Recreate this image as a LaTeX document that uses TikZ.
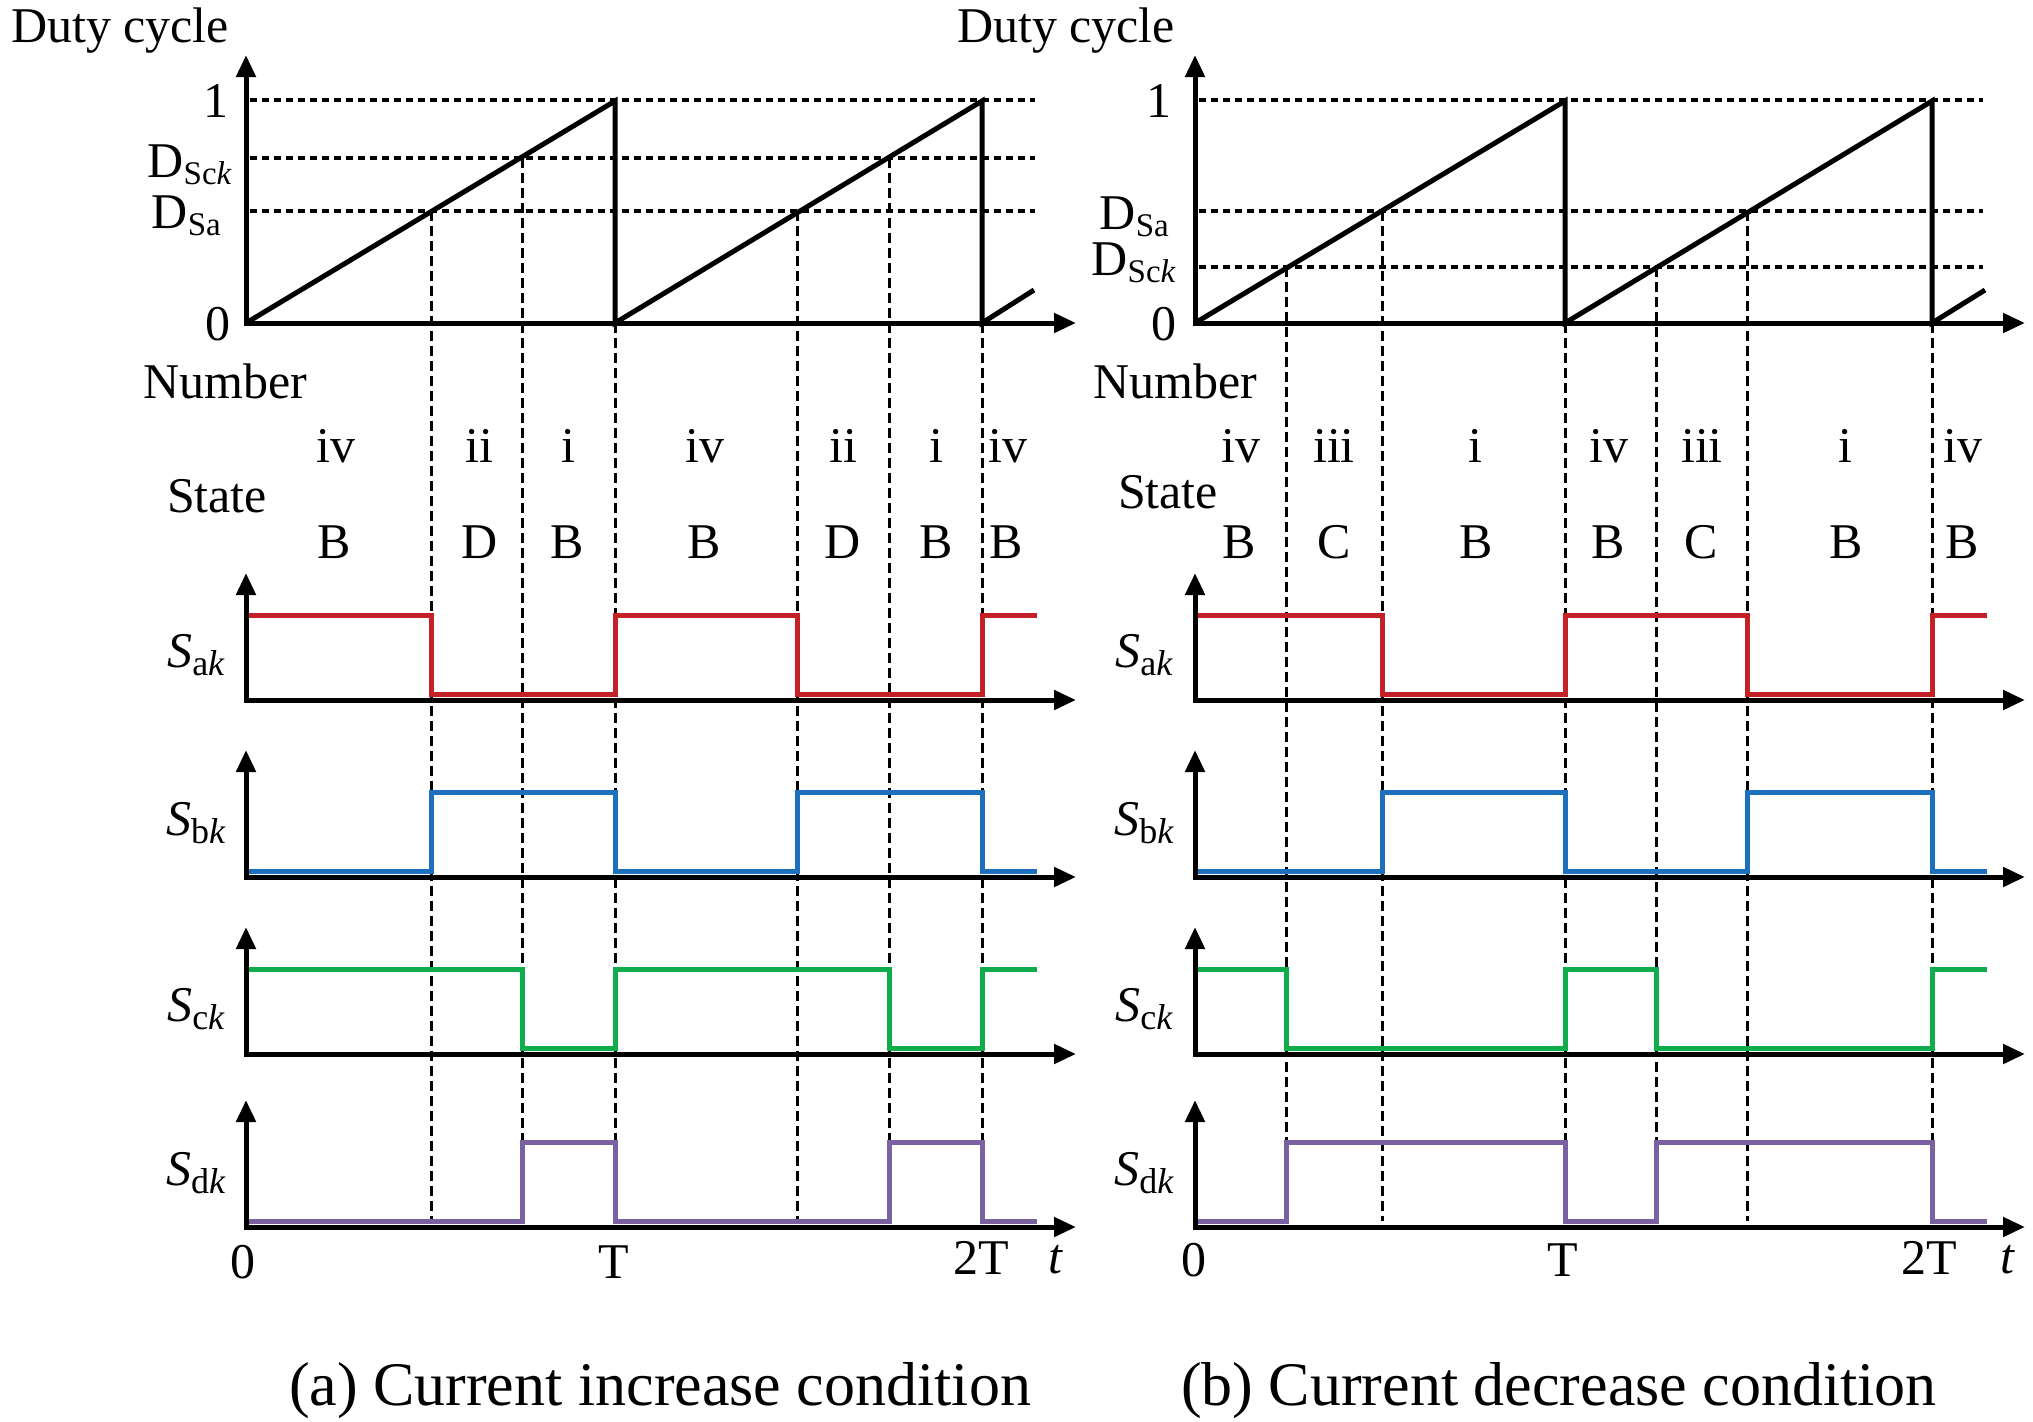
\documentclass[tikz,border=0pt]{standalone}
\usepackage{fontspec}
\setmainfont{Liberation Serif}
\usetikzlibrary{arrows.meta}
\definecolor{sred}{RGB}{196,32,40}
\definecolor{sblue}{RGB}{28,112,190}
\definecolor{sgreen}{RGB}{16,172,76}
\definecolor{spurple}{RGB}{122,98,162}
\tikzset{
  axisln/.style={line width=5pt,{Triangle[length=22pt,width=19pt]}-{Triangle[length=22pt,width=19pt]}},
  ramp/.style={line width=5pt,line join=miter},
  dotln/.style={line width=4pt,dash pattern=on 7pt off 5pt},
  dashln/.style={line width=3pt,dash pattern=on 10pt off 5pt},
  trace/.style={line width=5pt,line join=miter},
  lab/.style={font=\fontsize{50}{60}\selectfont,inner sep=0pt},
  captxt/.style={font=\fontsize{62}{72}\selectfont,inner sep=0pt}
}
\newcommand{\Dsub}[1]{D\raisebox{-7pt}{\fontsize{33}{33}\selectfont #1}}
\newcommand{\Ssub}[1]{\textit{S}\raisebox{-8pt}{\fontsize{36}{36}\selectfont #1\textit{k}}}
\begin{document}
\begin{tikzpicture}[x=1pt,y=-1pt]
\useasboundingbox[fill=white] (0,0) rectangle (2033,1421);

% ================= panel (a) =================
\draw[dotln] (250,100) -- (1035,100);
\draw[dotln] (250,158) -- (1035,158);
\draw[dotln] (250,211) -- (1035,211);
\draw[dashln] (431,211) -- (431,1221);
\draw[dashln] (522,158) -- (522,1221);
\draw[dashln] (615,323) -- (615,1221);
\draw[dashln] (797,211) -- (797,1221);
\draw[dashln] (889,158) -- (889,1221);
\draw[dashln] (982,323) -- (982,1221);
\draw[ramp] (246,323) -- (615,101) -- (615,323) -- (982,101) -- (982,323) -- (1034,290);
\draw[axisln] (246,55) |- (1076,323);
\draw[axisln] (246,573) |- (1076,700);
\draw[axisln] (246,750) |- (1076,877);
\draw[axisln] (246,927) |- (1076,1054);
\draw[axisln] (246,1100) |- (1076,1227);
\draw[trace,sred] (249,615) -- (431,615) -- (431,694) -- (615,694) -- (615,615) -- (797,615) -- (797,694) -- (982,694) -- (982,615) -- (1037,615);
\draw[trace,sblue] (249,871) -- (431,871) -- (431,792) -- (615,792) -- (615,871) -- (797,871) -- (797,792) -- (982,792) -- (982,871) -- (1037,871);
\draw[trace,sgreen] (249,969) -- (522,969) -- (522,1048) -- (615,1048) -- (615,969) -- (889,969) -- (889,1048) -- (982,1048) -- (982,969) -- (1037,969);
\draw[trace,spurple] (249,1221) -- (522,1221) -- (522,1142) -- (615,1142) -- (615,1221) -- (889,1221) -- (889,1142) -- (982,1142) -- (982,1221) -- (1037,1221);
\node[lab,anchor=base] (aduty) at (120,42) {Duty cycle};
\node[lab,anchor=east] (aone) at (229,101) {1};
\node[lab,anchor=east] (azero) at (231,324) {0};
\node[lab,anchor=base east] (adsck) at (232,177) {\Dsub{Sc\textit{k}}};
\node[lab,anchor=base east] (adsa) at (221,228) {\Dsub{Sa}};
\node[lab,anchor=base] (anum) at (225,398) {Number};
\node[lab,anchor=base] (astate) at (217,512) {State};
\node[lab,anchor=base] (an1) at (336,462) {iv};
\node[lab,anchor=base] (an2) at (479,462) {ii};
\node[lab,anchor=base] (an3) at (568,462) {i};
\node[lab,anchor=base] (an4) at (705,462) {iv};
\node[lab,anchor=base] (an5) at (843,462) {ii};
\node[lab,anchor=base] (an6) at (936,462) {i};
\node[lab,anchor=base] (an7) at (1008,462) {iv};
\node[lab,anchor=base] (as1) at (334,558) {B};
\node[lab,anchor=base] (as2) at (480,558) {D};
\node[lab,anchor=base] (as3) at (567,558) {B};
\node[lab,anchor=base] (as4) at (704,558) {B};
\node[lab,anchor=base] (as5) at (843,558) {D};
\node[lab,anchor=base] (as6) at (936,558) {B};
\node[lab,anchor=base] (as7) at (1006,558) {B};
\node[lab,anchor=base] (asa) at (196,667) {\Ssub{a}};
\node[lab,anchor=base] (asb) at (196,835) {\Ssub{b}};
\node[lab,anchor=base] (asc) at (196,1021) {\Ssub{c}};
\node[lab,anchor=base] (asd) at (196,1185) {\Ssub{d}};
\node[lab,anchor=base] (at0) at (243,1278) {0};
\node[lab,anchor=base] (at1) at (614,1278) {T};
\node[lab,anchor=base] (at2) at (981,1274) {2T};
\node[lab,anchor=base] (att) at (1056,1273) {\textit{t}};
\node[captxt,anchor=base] (acap) at (660,1405) {(a) Current increase condition};

% ================= panel (b) =================
\draw[dotln] (1199,100) -- (1983,100);
\draw[dotln] (1199,211) -- (1983,211);
\draw[dotln] (1199,267) -- (1983,267);
\draw[dashln] (1286,267) -- (1286,1221);
\draw[dashln] (1382,211) -- (1382,1221);
\draw[dashln] (1565,323) -- (1565,1221);
\draw[dashln] (1656,267) -- (1656,1221);
\draw[dashln] (1747,211) -- (1747,1221);
\draw[dashln] (1932,323) -- (1932,1221);
\draw[ramp] (1195,323) -- (1565,101) -- (1565,323) -- (1932,101) -- (1932,323) -- (1985,290);
\draw[axisln] (1195,55) |- (2025,323);
\draw[axisln] (1195,573) |- (2025,700);
\draw[axisln] (1195,750) |- (2025,877);
\draw[axisln] (1195,927) |- (2025,1054);
\draw[axisln] (1195,1100) |- (2025,1227);
\draw[trace,sred] (1198,615) -- (1382,615) -- (1382,694) -- (1565,694) -- (1565,615) -- (1747,615) -- (1747,694) -- (1932,694) -- (1932,615) -- (1987,615);
\draw[trace,sblue] (1198,871) -- (1382,871) -- (1382,792) -- (1565,792) -- (1565,871) -- (1747,871) -- (1747,792) -- (1932,792) -- (1932,871) -- (1987,871);
\draw[trace,sgreen] (1198,969) -- (1286,969) -- (1286,1048) -- (1565,1048) -- (1565,969) -- (1656,969) -- (1656,1048) -- (1932,1048) -- (1932,969) -- (1987,969);
\draw[trace,spurple] (1198,1221) -- (1286,1221) -- (1286,1142) -- (1565,1142) -- (1565,1221) -- (1656,1221) -- (1656,1142) -- (1932,1142) -- (1932,1221) -- (1987,1221);
\node[lab,anchor=base] (bduty) at (1066,42) {Duty cycle};
\node[lab,anchor=east] (bone) at (1172,101) {1};
\node[lab,anchor=east] (bzero) at (1177,324) {0};
\node[lab,anchor=base east] (bdsa) at (1169,229) {\Dsub{Sa}};
\node[lab,anchor=base east] (bdsck) at (1176,275) {\Dsub{Sc\textit{k}}};
\node[lab,anchor=base] (bnum) at (1175,398) {Number};
\node[lab,anchor=base] (bstate) at (1168,508) {State};
\node[lab,anchor=base] (bn1) at (1241,462) {iv};
\node[lab,anchor=base] (bn2) at (1334,462) {iii};
\node[lab,anchor=base] (bn3) at (1475,462) {i};
\node[lab,anchor=base] (bn4) at (1609,462) {iv};
\node[lab,anchor=base] (bn5) at (1702,462) {iii};
\node[lab,anchor=base] (bn6) at (1845,462) {i};
\node[lab,anchor=base] (bn7) at (1963,462) {iv};
\node[lab,anchor=base] (bs1) at (1239,558) {B};
\node[lab,anchor=base] (bs2) at (1334,558) {C};
\node[lab,anchor=base] (bs3) at (1476,558) {B};
\node[lab,anchor=base] (bs4) at (1608,558) {B};
\node[lab,anchor=base] (bs5) at (1701,558) {C};
\node[lab,anchor=base] (bs6) at (1846,558) {B};
\node[lab,anchor=base] (bs7) at (1962,558) {B};
\node[lab,anchor=base] (bsa) at (1144,667) {\Ssub{a}};
\node[lab,anchor=base] (bsb) at (1144,835) {\Ssub{b}};
\node[lab,anchor=base] (bsc) at (1144,1021) {\Ssub{c}};
\node[lab,anchor=base] (bsd) at (1144,1185) {\Ssub{d}};
\node[lab,anchor=base] (bt0) at (1194,1276) {0};
\node[lab,anchor=base] (bt1) at (1563,1276) {T};
\node[lab,anchor=base] (bt2) at (1929,1274) {2T};
\node[lab,anchor=base] (btt) at (2008,1273) {\textit{t}};
\node[captxt,anchor=base] (bcap) at (1559,1405) {(b) Current decrease condition};
\end{tikzpicture}
\end{document}
